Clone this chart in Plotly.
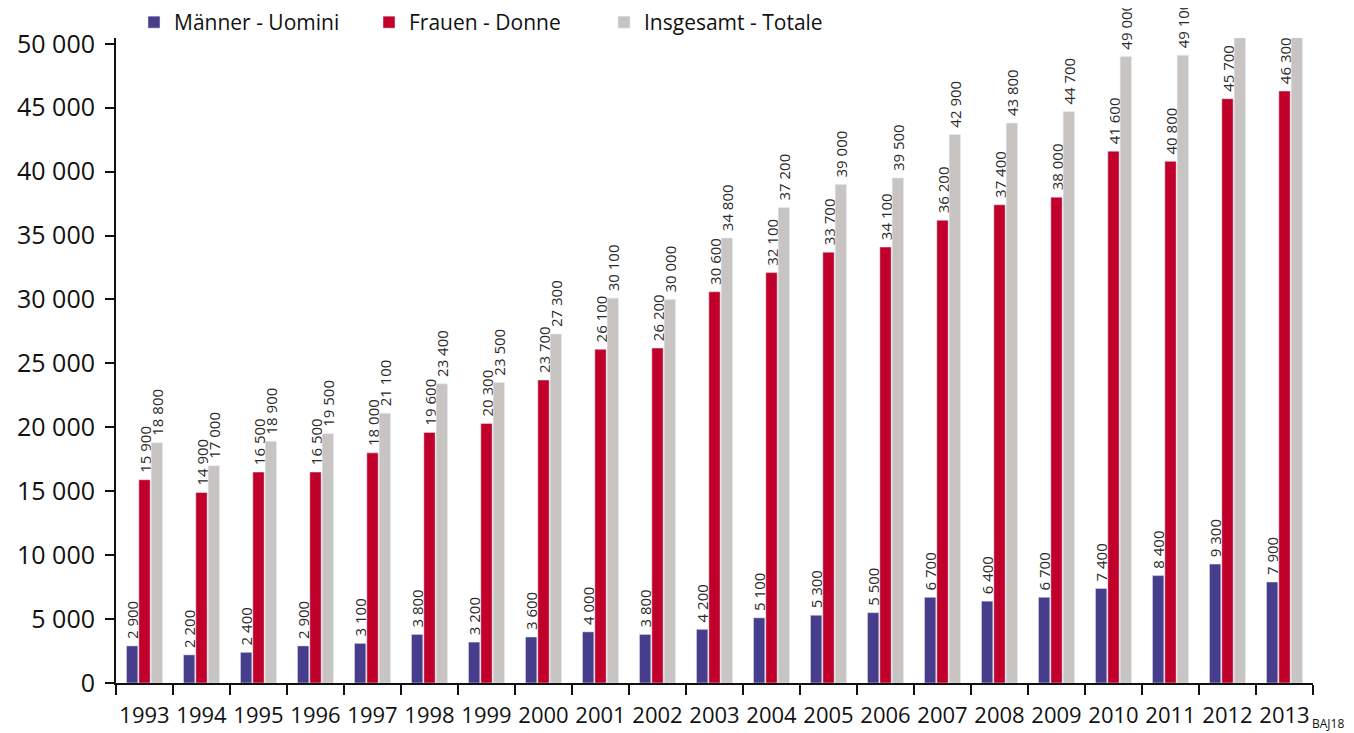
import plotly.graph_objects as go

years = [str(y) for y in range(1993, 2014)]
maenner = [2900, 2200, 2400, 2900, 3100, 3800, 3200, 3600, 4000, 3800, 4200,
           5100, 5300, 5500, 6700, 6400, 6700, 7400, 8400, 9300, 7900]
frauen = [15900, 14900, 16500, 16500, 18000, 19600, 20300, 23700, 26100, 26200, 30600,
          32100, 33700, 34100, 36200, 37400, 38000, 41600, 40800, 45700, 46300]
insgesamt = [18800, 17000, 18900, 19500, 21100, 23400, 23500, 27300, 30100, 30000, 34800,
             37200, 39000, 39500, 42900, 43800, 44700, 49000, 49100, 55000, 54200]

series = [
    ("Männer - Uomini", maenner, "#463E8C"),
    ("Frauen - Donne", frauen, "#C0002B"),
    ("Insgesamt - Totale", insgesamt, "#C8C4C2"),
]

FONT = "Open Sans, sans-serif"

# page body adds an 8px margin, so the figure is shrunk to fit the window
W, H = 1346, 725
M = dict(l=108, r=41, t=30, b=50)
plot_h = H - M["t"] - M["b"]

fig = go.Figure()
for name, vals, color in series:
    fig.add_trace(go.Bar(
        x=years, y=vals, name=name, marker_color=color,
        texttemplate="\u00a0%{y:,}", textposition="outside", textangle=-90,
        textfont=dict(size=15, color="#2a2a2a", family=FONT),
        constraintext="none", cliponaxis=False,
    ))

fig.update_layout(
    width=W, height=H,
    paper_bgcolor="white", plot_bgcolor="white",
    font=dict(family=FONT, color="#111111"),
    separators=", ",
    barmode="group", bargap=0.35, bargroupgap=0.08,
    margin=dict(**M, autoexpand=False),
    showlegend=True,
    legend=dict(orientation="h", xref="container", yref="paper",
                x=126 / W, y=1 + 36 / plot_h, xanchor="left", yanchor="top",
                entrywidth=190, entrywidthmode="pixels",
                font=dict(size=21, family=FONT), itemclick=False),
    xaxis=dict(type="category", showline=True, linecolor="#111111", linewidth=2,
               ticks="outside", tickson="boundaries", ticklen=10, tickwidth=2,
               tickcolor="#111111", tickfont=dict(size=22), tickangle=0,
               showgrid=False, automargin=False, ticklabelstandoff=12),
    yaxis=dict(range=[0, 50450], dtick=5000, showline=True, linecolor="#111111",
               linewidth=2, ticks="outside", ticklen=9, tickwidth=2,
               tickcolor="#111111", tickfont=dict(size=25), showgrid=False,
               zeroline=False, tickformat=",", automargin=False,
               ticklabelstandoff=5),
    annotations=[dict(text="BAJ18", xref="paper", yref="paper", x=1.0, y=0,
                      xanchor="left", yanchor="top", yshift=-30, xshift=-3,
                      showarrow=False, font=dict(size=12))],
)

fig.write_html("out.html")
